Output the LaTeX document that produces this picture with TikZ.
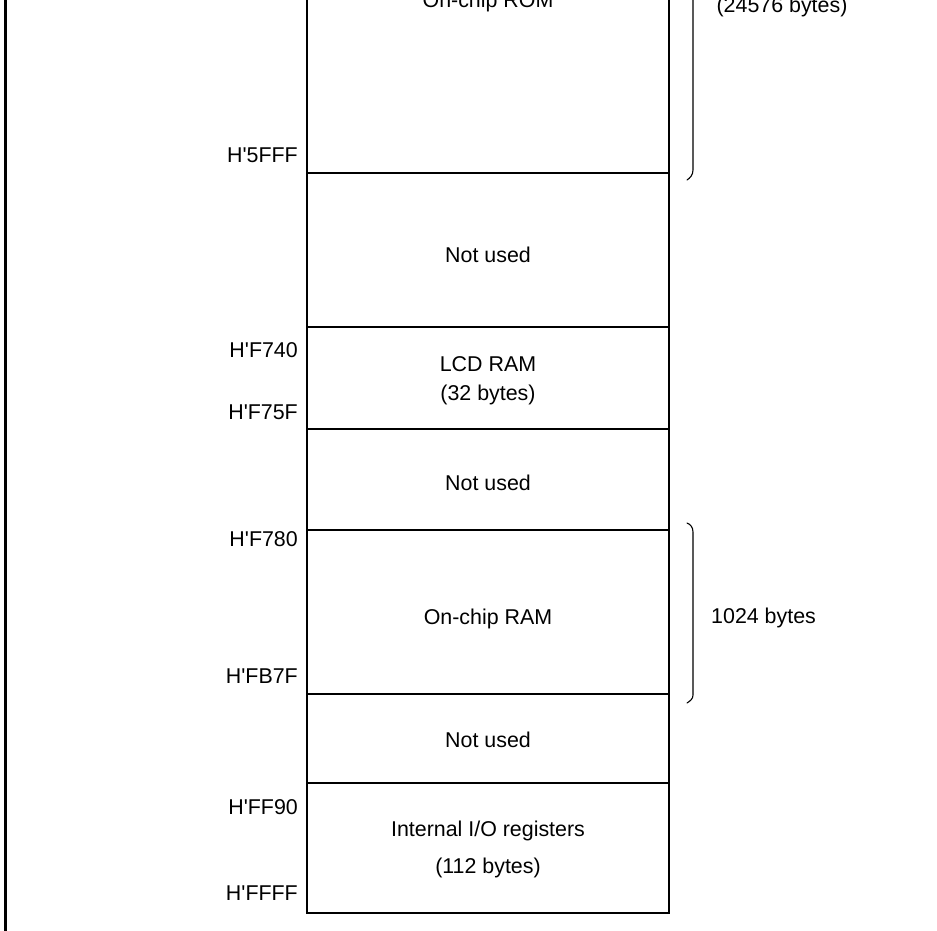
\documentclass[tikz,border=0pt]{standalone}
\usepackage{fontspec}
\setmainfont{Liberation Sans}
\newcommand{\addr}[1]{H\textquotesingle#1}
\begin{document}
\begin{tikzpicture}[x=1pt,y=-1pt,
  lbl/.style={font=\fontsize{21.4}{25}\selectfont, inner sep=0pt},
  adr/.style={lbl, anchor=east},
  frame/.style={line width=2.4pt},
  divider/.style={line width=1.1pt},
  brace/.style={line width=1.1pt, line cap=round}]
\useasboundingbox (0,0) rectangle (937,930);
\clip (0,0) rectangle (937,930);
% left border line
\draw[frame] (5.5,-5) -- (5.5,935);
% memory map box
\draw[frame] (307,-5) -- (307,913) -- (669,913) -- (669,-5);
\foreach \yy in {173,327,429,530,694,783}
  \draw[divider] (307,\yy) -- (669,\yy);
% region labels
\node[lbl] (rom) at (488,2) {On-chip ROM};
\node[lbl] (nu1) at (488,255) {Not used};
\node[lbl, align=center] (lcd) at (488,381) {LCD RAM\\[4pt](32 bytes)};
\node[lbl] (nu2) at (488,483) {Not used};
\node[lbl] (ram) at (488,619) {On-chip RAM};
\node[lbl] (nu3) at (488,740) {Not used};
\node[lbl] (io1) at (488,831) {Internal I/O registers};
\node[lbl] (io2) at (488,868) {(112 bytes)};
% addresses
\node[adr] (a1) at (298,155) {\addr{5FFF}};
\node[adr] (a2) at (298,350.5) {\addr{F740}};
\node[adr] (a3) at (298,412) {\addr{F75F}};
\node[adr] (a4) at (298,539.5) {\addr{F780}};
\node[adr] (a5) at (298,676.5) {\addr{FB7F}};
\node[adr] (a6) at (298,807.5) {\addr{FF90}};
\node[adr] (a7) at (298,893.5) {\addr{FFFF}};
% size labels
\node[lbl] (s1) at (782,6.5) {(24576 bytes)};
\node[lbl, anchor=west] (s2) at (711,618) {1024 bytes};
% braces
\draw[brace] (693,-5) -- (693,170) .. controls (693,175) and (690,178) .. (687,180);
\draw[brace] (687,523) .. controls (690,524) and (693,527) .. (693,532) -- (693,695) .. controls (693,699) and (690,701) .. (687,703);
\end{tikzpicture}
\end{document}
